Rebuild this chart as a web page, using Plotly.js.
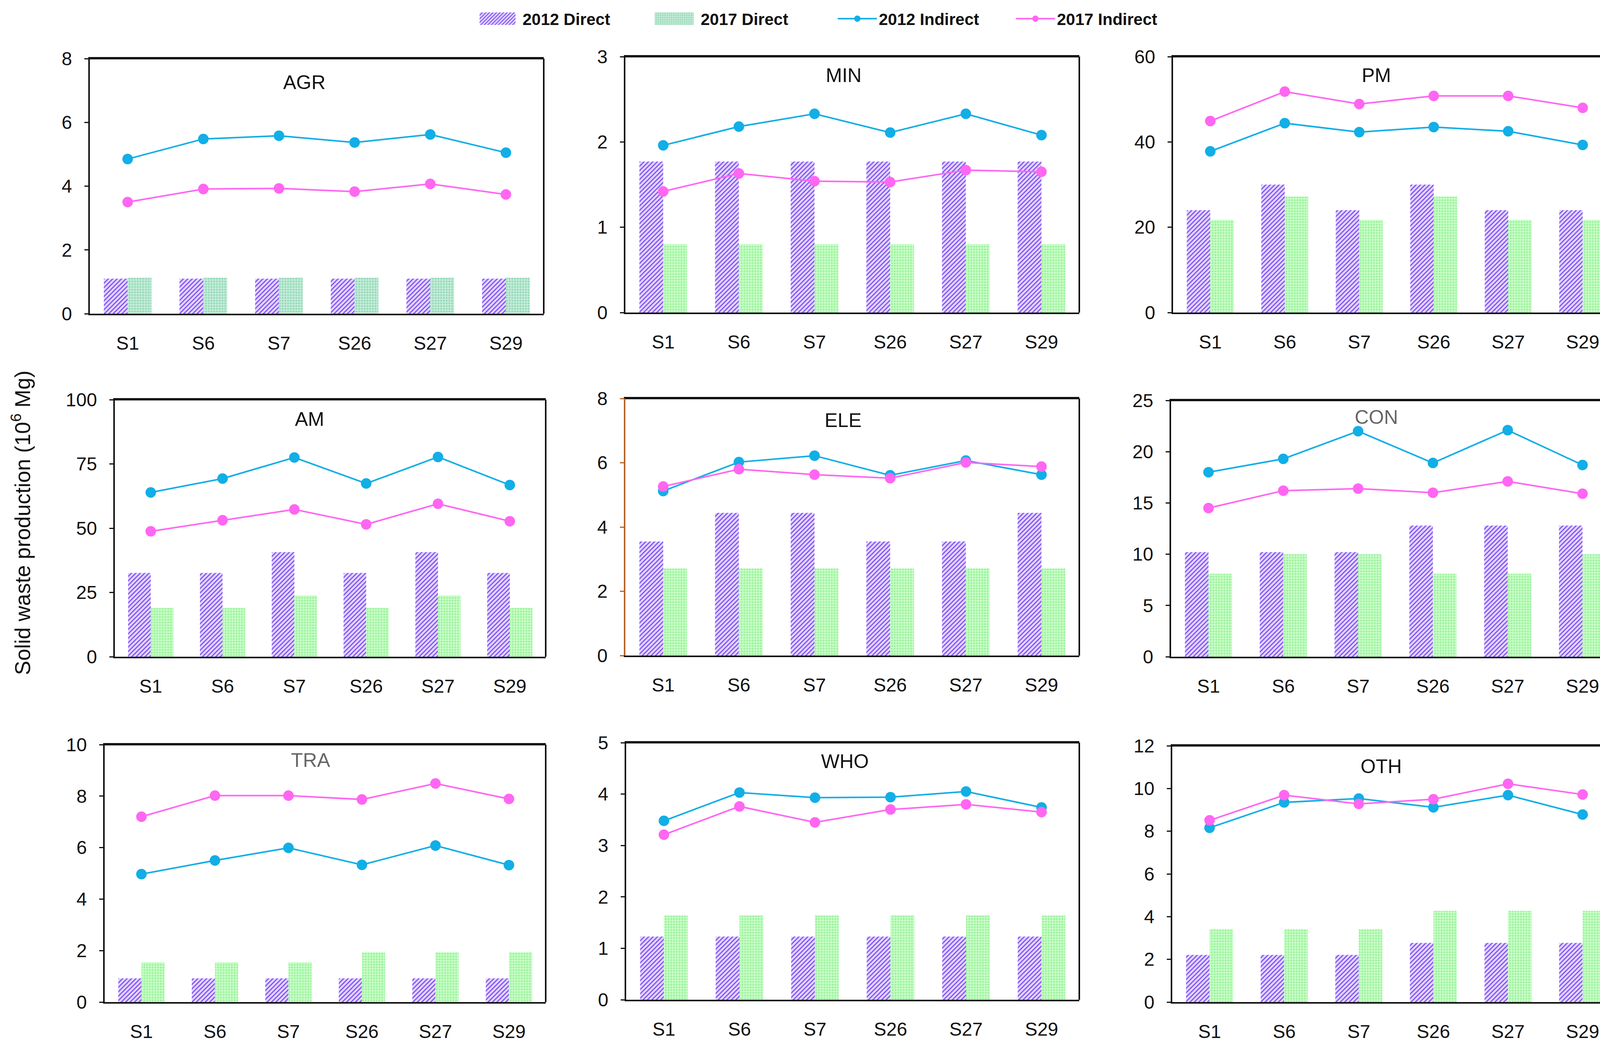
<!DOCTYPE html>
<html>
<head>
<meta charset="utf-8">
<script src="https://cdn.plot.ly/plotly-3.0.1.min.js"></script>
<style>html,body{margin:0;padding:0;background:#fff;}#chart{width:4176px;height:2680px;}</style>
</head>
<body>
<div id="chart"></div>
<script>
// ---------- DATA ----------
const categories = ['S1', 'S6', 'S7', 'S26', 'S27', 'S29'];
const sectors = ['AGR', 'MIN', 'PM', 'AM', 'ELE', 'CON', 'TRA', 'WHO', 'OTH'];
const seriesNames = ['2012 Direct', '2017 Direct', '2012 Indirect', '2017 Indirect'];

const AGR_direct2012 = [1.10, 1.10, 1.10, 1.10, 1.10, 1.10];
const AGR_direct2017 = [1.13, 1.13, 1.13, 1.13, 1.13, 1.13];
const AGR_indirect2012 = [4.85, 5.48, 5.58, 5.37, 5.62, 5.05];
const AGR_indirect2017 = [3.50, 3.91, 3.93, 3.83, 4.07, 3.74];

const MIN_direct2012 = [1.77, 1.77, 1.77, 1.77, 1.77, 1.77];
const MIN_direct2017 = [0.80, 0.80, 0.80, 0.80, 0.80, 0.80];
const MIN_indirect2012 = [1.96, 2.18, 2.33, 2.11, 2.33, 2.08];
const MIN_indirect2017 = [1.42, 1.63, 1.54, 1.53, 1.67, 1.65];

const PM_direct2012 = [24.0, 30.0, 24.0, 30.0, 24.0, 24.0];
const PM_direct2017 = [21.7, 27.2, 21.7, 27.2, 21.7, 21.7];
const PM_indirect2012 = [37.8, 44.4, 42.3, 43.5, 42.5, 39.3];
const PM_indirect2017 = [44.9, 51.8, 48.9, 50.8, 50.8, 48.0];

const AM_direct2012 = [32.6, 32.6, 40.7, 32.6, 40.7, 32.6];
const AM_direct2017 = [19.0, 19.0, 23.8, 19.0, 23.8, 19.0];
const AM_indirect2012 = [63.9, 69.3, 77.5, 67.4, 77.7, 66.8];
const AM_indirect2017 = [48.8, 53.1, 57.3, 51.5, 59.5, 52.7];

const ELE_direct2012 = [3.55, 4.44, 4.44, 3.55, 3.55, 4.44];
const ELE_direct2017 = [2.71, 2.71, 2.71, 2.71, 2.71, 2.71];
const ELE_indirect2012 = [5.12, 6.02, 6.22, 5.61, 6.07, 5.63];
const ELE_indirect2017 = [5.26, 5.80, 5.63, 5.52, 6.01, 5.88];

const CON_direct2012 = [10.2, 10.2, 10.2, 12.8, 12.8, 12.8];
const CON_direct2017 = [8.1, 10.0, 10.0, 8.1, 8.1, 10.0];
const CON_indirect2012 = [18.0, 19.3, 22.0, 18.9, 22.1, 18.7];
const CON_indirect2017 = [14.5, 16.2, 16.4, 16.0, 17.1, 15.9];

const TRA_direct2012 = [0.92, 0.92, 0.92, 0.92, 0.92, 0.92];
const TRA_direct2017 = [1.54, 1.54, 1.54, 1.94, 1.94, 1.94];
const TRA_indirect2012 = [4.97, 5.50, 5.99, 5.33, 6.08, 5.32];
const TRA_indirect2017 = [7.20, 8.02, 8.02, 7.87, 8.49, 7.89];

const WHO_direct2012 = [1.23, 1.23, 1.23, 1.23, 1.23, 1.23];
const WHO_direct2017 = [1.64, 1.64, 1.64, 1.64, 1.64, 1.64];
const WHO_indirect2012 = [3.48, 4.03, 3.93, 3.94, 4.05, 3.74];
const WHO_indirect2017 = [3.21, 3.76, 3.45, 3.70, 3.80, 3.65];

const OTH_direct2012 = [2.21, 2.21, 2.21, 2.77, 2.77, 2.77];
const OTH_direct2017 = [3.41, 3.41, 3.41, 4.27, 4.27, 4.27];
const OTH_indirect2012 = [8.16, 9.35, 9.53, 9.12, 9.69, 8.78];
const OTH_indirect2017 = [8.51, 9.69, 9.28, 9.50, 10.22, 9.72];

const yMax = [8, 3, 60, 100, 8, 25, 10, 5, 12];
const yStep = [2, 1, 20, 25, 2, 5, 2, 1, 2];
const yTitle = 'Solid waste production (10<sup>6</sup> Mg)';

const sectorData = {
  AGR: [AGR_direct2012, AGR_direct2017, AGR_indirect2012, AGR_indirect2017],
  MIN: [MIN_direct2012, MIN_direct2017, MIN_indirect2012, MIN_indirect2017],
  PM: [PM_direct2012, PM_direct2017, PM_indirect2012, PM_indirect2017],
  AM: [AM_direct2012, AM_direct2017, AM_indirect2012, AM_indirect2017],
  ELE: [ELE_direct2012, ELE_direct2017, ELE_indirect2012, ELE_indirect2017],
  CON: [CON_direct2012, CON_direct2017, CON_indirect2012, CON_indirect2017],
  TRA: [TRA_direct2012, TRA_direct2017, TRA_indirect2012, TRA_indirect2017],
  WHO: [WHO_direct2012, WHO_direct2017, WHO_indirect2012, WHO_indirect2017],
  OTH: [OTH_direct2012, OTH_direct2017, OTH_indirect2012, OTH_indirect2017]
};

// ---------- LAYOUT GEOMETRY (pixels in a 4176x2680 page) ----------
const W = 4176, H = 2680;
const boxes = [ // [left, right, top, bottom]
  [230, 1392, 150, 803],
  [1601, 2763, 145, 800],
  [3003, 4147, 145, 800],
  [294, 1397, 1023, 1681],
  [1601, 2763, 1020, 1678],
  [2998, 4147, 1025, 1681],
  [268, 1397, 1906, 2565],
  [1603, 2763, 1901, 2559],
  [3001, 4147, 1909, 2565]
];
const titlePos = [ // [x, y] pixels
  [779, 211], [2160, 193], [3523, 193],
  [792, 1073], [2158, 1076], [3523, 1068],
  [795, 1946], [2163, 1949], [3536, 1962]
];
const titleColor = ['#111', '#111', '#111', '#111', '#111', '#666', '#666', '#111', '#111'];

const FONT = 'Liberation Sans, Arial, sans-serif';
const blue = '#12aee6';
const pink = '#ff66f2';

const traces = [];
const layout = {
  width: W, height: H,
  margin: {l: 0, r: 0, t: 0, b: 0},
  paper_bgcolor: '#fff', plot_bgcolor: '#fff',
  font: {family: FONT, size: 46, color: '#111'},
  barmode: 'group', bargap: 0.37, bargroupgap: 0,
  showlegend: true,
  legend: {
    orientation: 'h', x: 0.294, xanchor: 'left', y: 0.9948, yanchor: 'top',
    font: {family: FONT, size: 42, color: '#111', weight: 'bold'},
    itemwidth: 100, entrywidth: 341, tracegroupgap: 0,
    bgcolor: 'rgba(0,0,0,0)'
  },
  annotations: [],
  shapes: [],
  hovermode: false
};

sectors.forEach((sec, i) => {
  const n = i + 1;
  const xa = 'x' + (n === 1 ? '' : n);
  const ya = 'y' + (n === 1 ? '' : n);
  const [l, r, t, b] = boxes[i];
  const d = sectorData[sec];
  const isAGR = sec === 'AGR';
  const first = i === 0;

  traces.push({
    type: 'bar', x: categories, y: d[0], name: seriesNames[0], xaxis: xa, yaxis: ya,
    legendgroup: 'd12', showlegend: first,
    marker: {color: '#e2d8ff', line: {width: 0},
      pattern: {shape: '/', fgcolor: '#8450f4', bgcolor: '#e2d8ff', size: 8, solidity: 0.38}}
  });
  traces.push({
    type: 'bar', x: categories, y: d[1], name: seriesNames[1], xaxis: xa, yaxis: ya,
    legendgroup: 'd17', showlegend: first,
    marker: {color: isAGR ? '#b9e8d2' : '#c2fcc2', line: {width: 0},
      pattern: {shape: '.', fgcolor: isAGR ? '#95d9b7' : '#9cf09c', bgcolor: isAGR ? '#c4ecd9' : '#c8ffc8', size: 7, solidity: 0.4}}
  });
  traces.push({
    type: 'scatter', mode: 'lines+markers', x: categories, y: d[2], name: seriesNames[2], xaxis: xa, yaxis: ya,
    legendgroup: 'i12', showlegend: first,
    line: {color: blue, width: 4}, marker: {color: blue, size: 27}
  });
  traces.push({
    type: 'scatter', mode: 'lines+markers', x: categories, y: d[3], name: seriesNames[3], xaxis: xa, yaxis: ya,
    legendgroup: 'i17', showlegend: first,
    line: {color: pink, width: 4}, marker: {color: pink, size: 27}
  });

  const axisColor = sec === 'ELE' ? '#b5652a' : '#111';
  layout['xaxis' + (n === 1 ? '' : n)] = {
    domain: [l / W, r / W], anchor: ya, type: 'category',
    range: [-0.5, 5.5], showgrid: false, zeroline: false,
    showline: true, linecolor: '#111', linewidth: 4, mirror: true,
    ticks: '', ticklabelstandoff: 30,
    tickfont: {family: FONT, size: 48, color: '#111'}, fixedrange: true
  };
  layout['yaxis' + (n === 1 ? '' : n)] = {
    domain: [1 - b / H, 1 - t / H], anchor: xa,
    range: [0, yMax[i]], dtick: yStep[i], tick0: 0, showgrid: false, zeroline: false,
    showline: true, linecolor: axisColor, linewidth: 4, mirror: false,
    ticks: 'outside', ticklen: 10, tickwidth: 3, tickcolor: axisColor, ticklabelstandoff: 22,
    tickfont: {family: FONT, size: 48, color: '#111'}, fixedrange: true
  };
  layout.shapes.push({type: 'line', xref: 'paper', yref: 'paper', x0: l / W, x1: r / W, y0: 1 - t / H, y1: 1 - t / H, line: {color: '#111', width: 4}});
  layout.shapes.push({type: 'line', xref: 'paper', yref: 'paper', x0: r / W, x1: r / W, y0: 1 - t / H, y1: 1 - b / H, line: {color: '#111', width: 4}});

  layout.annotations.push({
    xref: 'paper', yref: 'paper', x: titlePos[i][0] / W, y: 1 - titlePos[i][1] / H,
    xanchor: 'center', yanchor: 'middle', showarrow: false, text: sec,
    font: {family: FONT, size: 50, color: titleColor[i]}
  });
});

layout.annotations.push({
  xref: 'paper', yref: 'paper', x: 54 / W, y: 1 - 1338 / H, xanchor: 'center', yanchor: 'middle',
  showarrow: false, textangle: -90, text: yTitle,
  font: {family: FONT, size: 55, color: '#111'}
});

function widenLegendBars(gd) {
  // widen the bar keys of the legend to match the reference's wide patterned swatches
  const items = gd.querySelectorAll('.legend .traces');
  items.forEach(item => {
    item.querySelectorAll('.legendpoints path').forEach(p => {
      const dd = p.getAttribute('d') || '';
      if (/^M6,6H-6V-6H6Z/.test(dd) || p.classList.contains('legendbar') || p.classList.contains('legendundefined')) {
        p.setAttribute('d', 'M37,16H-63V-16H37Z');
      }
    });
  });
}

const gdEl = document.getElementById('chart');
Plotly.newPlot(gdEl, traces, layout, {staticPlot: true, displayModeBar: false}).then(gd => {
  widenLegendBars(gd);
  gd.on && gd.on('plotly_afterplot', () => widenLegendBars(gd));
  setTimeout(() => widenLegendBars(gd), 50);
});
</script>
</body>
</html>
